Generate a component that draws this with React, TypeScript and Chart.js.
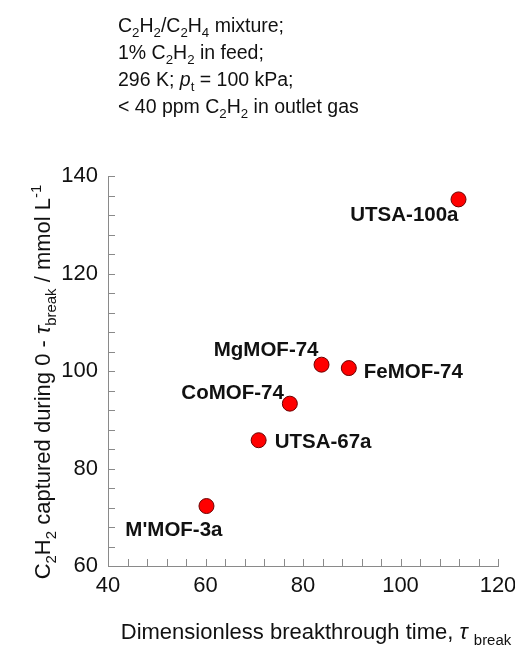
import React, { useEffect, useRef } from "react";
import { Chart, registerables } from "chart.js";

Chart.register(...registerables);

// Materials and their measured values
const materials = ["UTSA-100a", "MgMOF-74", "FeMOF-74", "CoMOF-74", "UTSA-67a", "M'MOF-3a"];
const breakthroughTime = [111.9, 83.8, 89.4, 77.3, 70.9, 60.2];
const capturedC2H2 = [135.2, 101.3, 100.6, 93.3, 85.8, 72.3];

// Axis ranges and labelled tick values
const xRange = [40, 120];
const yRange = [60, 140];
const minorStep = 4;
const labelStep = 20;

// Label placement relative to each marker: [dx, dy, align]
const labelPlacement: [number, number, CanvasTextAlign][] = [
  [0, 16, "right"],
  [-3, -14, "right"],
  [15, 4, "left"],
  [-6, -10, "right"],
  [16, 2, "left"],
  [16, 24, "right"],
];

type Seg = { t: string; sub?: boolean; sup?: boolean; it?: boolean };

const FONT = "'Liberation Sans', Arial, sans-serif";

function segFont(s: Seg, size: number) {
  const sz = s.sub || s.sup ? size * 0.68 : size;
  return `${s.it ? "italic " : ""}${sz}px ${FONT}`;
}

function richWidth(ctx: CanvasRenderingContext2D, segs: Seg[], size: number) {
  let w = 0;
  for (const s of segs) {
    ctx.font = segFont(s, size);
    w += ctx.measureText(s.t).width;
  }
  return w;
}

function drawRich(ctx: CanvasRenderingContext2D, segs: Seg[], x: number, y: number, size: number) {
  let cx = x;
  ctx.textBaseline = "alphabetic";
  ctx.textAlign = "left";
  for (const s of segs) {
    ctx.font = segFont(s, size);
    const dy = s.sub ? size * 0.27 : s.sup ? -size * 0.42 : 0;
    ctx.fillText(s.t, cx, y + dy);
    cx += ctx.measureText(s.t).width;
  }
}

const noteLines: Seg[][] = [
  [{ t: "C" }, { t: "2", sub: true }, { t: "H" }, { t: "2", sub: true }, { t: "/C" }, { t: "2", sub: true }, { t: "H" }, { t: "4", sub: true }, { t: " mixture;" }],
  [{ t: "1% C" }, { t: "2", sub: true }, { t: "H" }, { t: "2", sub: true }, { t: " in feed;" }],
  [{ t: "296 K; " }, { t: "p", it: true }, { t: "t", sub: true }, { t: " = 100 kPa;" }],
  [{ t: "< 40 ppm C" }, { t: "2", sub: true }, { t: "H" }, { t: "2", sub: true }, { t: " in outlet gas" }],
];

const xTitle: Seg[] = [
  { t: "Dimensionless breakthrough time, " },
  { t: "τ", it: true },
  { t: " " },
  { t: "break", sub: true },
];

const yTitle: Seg[] = [
  { t: "C" }, { t: "2", sub: true }, { t: "H" }, { t: "2", sub: true },
  { t: " captured during 0 - " }, { t: "τ", it: true }, { t: "break", sub: true },
  { t: " / mmol L" }, { t: "-1", sup: true },
];

const decorPlugin = {
  id: "decor",
  afterDraw(chart: any) {
    const ctx: CanvasRenderingContext2D = chart.ctx;
    const { left, bottom } = chart.chartArea;
    const xs = chart.scales.x;
    const ys = chart.scales.y;
    ctx.save();

    // inward tick marks
    ctx.strokeStyle = "#8a8a8a";
    ctx.lineWidth = 1;
    ctx.beginPath();
    for (let v = xRange[0] + minorStep; v <= xRange[1]; v += minorStep) {
      const px = Math.round(xs.getPixelForValue(v)) + 0.5;
      ctx.moveTo(px, bottom);
      ctx.lineTo(px, bottom - 7);
    }
    for (let v = yRange[0] + minorStep; v <= yRange[1]; v += minorStep) {
      const py = Math.round(ys.getPixelForValue(v)) + 0.5;
      ctx.moveTo(left, py);
      ctx.lineTo(left + 7, py);
    }
    ctx.stroke();

    // marker labels
    ctx.fillStyle = "#111";
    ctx.font = `bold 20.5px ${FONT}`;
    ctx.textBaseline = "middle";
    materials.forEach((name, i) => {
      const [dx, dy, align] = labelPlacement[i];
      const px = xs.getPixelForValue(breakthroughTime[i]);
      const py = ys.getPixelForValue(capturedC2H2[i]);
      ctx.textAlign = align;
      ctx.fillText(name, px + dx, py + dy);
    });

    // condition notes
    ctx.fillStyle = "#111";
    noteLines.forEach((line, i) => drawRich(ctx, line, 118, 32 + i * 27, 19.5));

    // x title
    const xw = richWidth(ctx, xTitle, 22);
    drawRich(ctx, xTitle, 316 - xw / 2, 639, 22);

    // y title
    const yw = richWidth(ctx, yTitle, 22);
    ctx.translate(50, 382);
    ctx.rotate(-Math.PI / 2);
    drawRich(ctx, yTitle, -yw / 2, 0, 22);
    ctx.restore();
  },
};

export default function App() {
  const ref = useRef<HTMLCanvasElement>(null);

  useEffect(() => {
    if (!ref.current) return;
    const points = breakthroughTime.map((x, i) => ({ x, y: capturedC2H2[i] }));
    const tickLabel = (v: any) => (Number(v) % labelStep === 0 ? String(v) : "");
    const chart = new Chart(ref.current, {
      type: "scatter",
      data: {
        datasets: [
          {
            data: points,
            pointRadius: 7.5,
            pointHoverRadius: 7.5,
            backgroundColor: "#ff0000",
            borderColor: "#6a0000",
            borderWidth: 1,
          },
        ],
      },
      options: {
        responsive: false,
        animation: false,
        events: [],
        layout: { padding: { top: 176, right: 17, bottom: 0, left: 0 } },
        plugins: { legend: { display: false }, tooltip: { enabled: false } },
        scales: {
          x: {
            type: "linear",
            min: xRange[0],
            max: xRange[1],
            afterFit: (s: any) => {
              s.height = 82;
              s.paddingLeft = 0;
              s.paddingRight = 0;
            },
            grid: { display: false, drawTicks: false },
            border: { display: true, color: "#8a8a8a", width: 1 },
            ticks: {
              stepSize: minorStep,
              autoSkip: false,
              maxRotation: 0,
              padding: 7,
              color: "#111",
              font: { family: FONT, size: 22 },
              callback: tickLabel,
            },
          },
          y: {
            type: "linear",
            min: yRange[0],
            max: yRange[1],
            afterFit: (s: any) => {
              s.width = 108;
              s.paddingTop = 0;
              s.paddingBottom = 0;
            },
            grid: { display: false, drawTicks: false },
            border: { display: true, color: "#8a8a8a", width: 1 },
            ticks: {
              stepSize: minorStep,
              autoSkip: false,
              padding: 10,
              color: "#111",
              font: { family: FONT, size: 22 },
              callback: tickLabel,
            },
          },
        },
      },
      plugins: [decorPlugin],
    });
    return () => chart.destroy();
  }, []);

  return (
    <div style={{ position: "absolute", left: 0, top: 0, width: 515, height: 648, background: "#fff" }}>
      <canvas ref={ref} width={515} height={648} />
    </div>
  );
}
